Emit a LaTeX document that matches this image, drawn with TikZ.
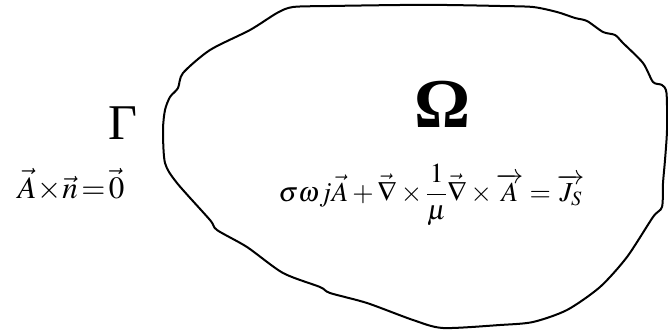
\documentclass[tikz,border=0pt]{standalone}
\usepackage{mathptmx}
\usepackage{fontspec}
\setmainfont{Liberation Serif}
\begin{document}
\begin{tikzpicture}[x=1pt,y=-1pt,
  outline/.style={line width=2pt,line join=round},
  lbl/.style={inner sep=0pt,font=\fontsize{#1}{#1}\selectfont}]
\useasboundingbox (0,0) rectangle (668,329);
\draw[outline] plot[smooth cycle,tension=0.45] coordinates {
(293,7) (330,6) (400,5) (447,5) (500,6) (533,7) (557,12) (575,18) (587,21)
(603,32) (615,35) (623,43) (643,63) (653,82) (662,85) (666.5,93) (667,130)
(665,160) (663,183) (662,207) (653,217) (627,257) (600,287) (567,310)
(533,322) (500,325) (443,328) (413,320) (367,303) (330,293) (320,287)
(283,273) (247,247) (217,230) (210,220) (177,183) (165,163) (163,130)
(165,110) (170,97) (178,88) (183,73) (210,50) (250,30) (277,13)};
\node[lbl=50,anchor=base] (gamma) at (123,139) {Γ};
\node[lbl=70,anchor=base] (omega) at (443,127) {\bfseries Ω};
\node[lbl=31,anchor=base] (bc) at (71,198) {$\vec{A}\!\times\!\vec{n}\!=\!\vec{0}$};
\node[lbl=27.5,anchor=base] (pde) at (431.5,201)
 {$\displaystyle\sigma\omega j\vec{A}+\vec{\nabla}\times\frac{1}{\mu}\vec{\nabla}\times\overrightarrow{A}=\overrightarrow{J_{S}}$};
\end{tikzpicture}
\end{document}
